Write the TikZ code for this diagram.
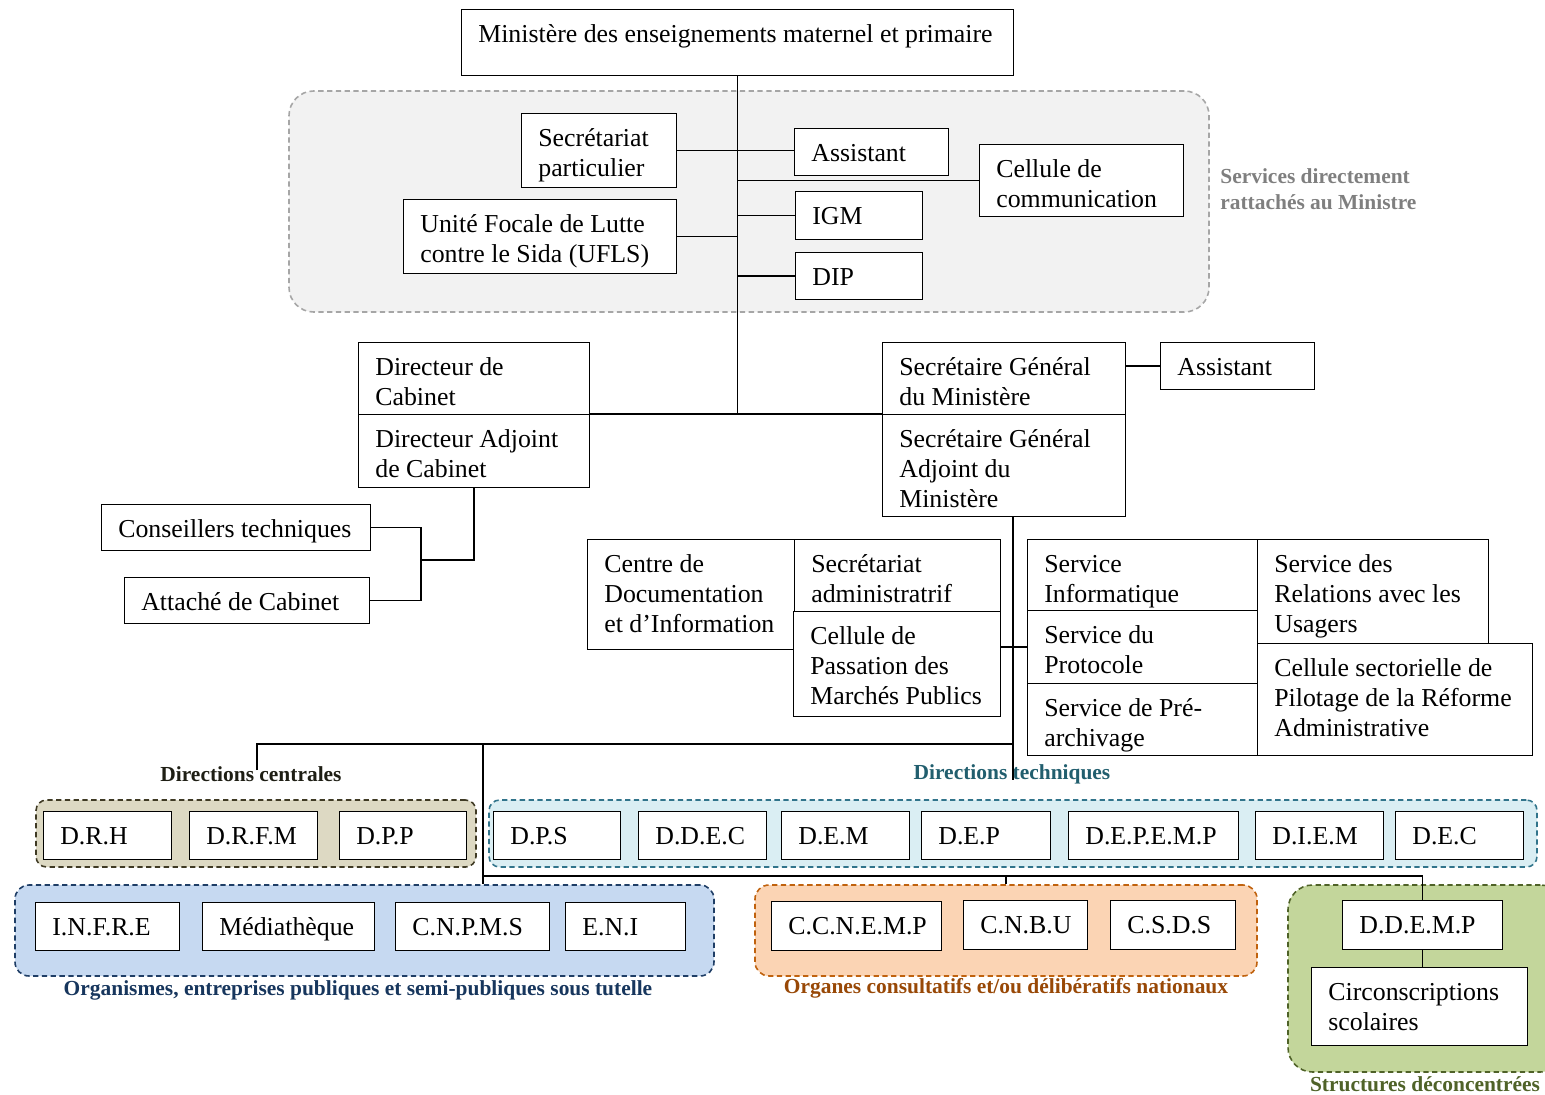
\documentclass[tikz,border=0pt]{standalone}
\usepackage{fontspec}
\setmainfont{Liberation Serif}
\usepackage{tikz}
\usetikzlibrary{positioning, fit, calc}
\definecolor{svfill}{HTML}{F2F2F2}
\definecolor{svline}{HTML}{A6A6A6}
\definecolor{svtext}{HTML}{7F7F7F}
\definecolor{dcfill}{HTML}{DDD9C3}
\definecolor{dcline}{HTML}{3F3A24}
\definecolor{dctext}{HTML}{1E1E14}
\definecolor{dtfill}{HTML}{DAEEF3}
\definecolor{dtline}{HTML}{31748B}
\definecolor{dttext}{HTML}{215E6E}
\definecolor{orgfill}{HTML}{C6D9F1}
\definecolor{orgline}{HTML}{1F3E66}
\definecolor{orgtext}{HTML}{17365D}
\definecolor{ocfill}{HTML}{FBD4B4}
\definecolor{ocline}{HTML}{C0620E}
\definecolor{octext}{HTML}{984806}
\definecolor{sdfill}{HTML}{C3D69B}
\definecolor{sdline}{HTML}{4F6228}
\definecolor{sdtext}{HTML}{4F6228}

% box given by its corners in pixels: [text opts]{name}{x1}{y1}{x2}{y2}{text}
\newcommand{\orgbox}[7][]{%
  \pgfmathsetlengthmacro{\boxw}{(#5-#3)*0.02cm}%
  \pgfmathsetlengthmacro{\boxh}{(#6-#4)*0.02cm}%
  \node[orgbox, minimum width=\boxw, minimum height=\boxh] (#2) at (#3,#4) {};
  \node[boxtext, #1] (#2t) at ([yshift=-0.16cm]#2.north west) {\rule{0pt}{0.5cm}#7};}

\begin{document}
\begin{tikzpicture}[
  x=0.02cm, y=-0.02cm,
  orgbox/.style={draw, fill=white, line width=0.6pt, anchor=north west, inner sep=0pt},
  boxtext/.style={anchor=north west, align=left, inner xsep=0.34cm, inner ysep=0pt, font=\fontsize{14.7}{17}\selectfont},
  grp/.style={dash pattern=on 3pt off 2pt, line width=0.9pt, inner sep=0pt, rounded corners=6pt},
  grplbl/.style={font=\fontsize{12.2}{14.7}\selectfont\bfseries},
  conn/.style={line width=0.8pt},
]
\useasboundingbox (0,0) rectangle (1545,1095);

% groups
\node[grp, draw=svline, fill=svfill, rounded corners=14pt, fit={(289,91) (1209,312)}] (gsv) {};
\node[grp, draw=dcline, fill=dcfill, fit={(36,800) (476,867)}] (gdc) {};
\node[grp, draw=dtline, fill=dtfill, fit={(489,800) (1537,867)}] (gdt) {};
\node[grp, draw=orgline, fill=orgfill, rounded corners=8pt, fit={(15,885) (714,976)}] (gorg) {};
\node[grp, draw=ocline, fill=ocfill, rounded corners=8pt, fit={(755,885) (1257,976)}] (goc) {};
\node[grp, draw=sdline, fill=sdfill, rounded corners=14pt, fit={(1288,885) (1565,1072)}] (gsd) {};

\node[grplbl, text=svtext, anchor=west, align=left, inner xsep=0pt] (svlbl) at (1220,189) {Services directement\\rattachés au Ministre};
\node[grplbl, text=dctext] (dclbl) at (251,774) {Directions centrales};
\node[grplbl, text=dttext] (dtlbl) at (1012,774) {Directions techniques};
\node[grplbl, text=orgtext] (orglbl) at (358,990) {Organismes, entreprises publiques et semi-publiques sous tutelle};
\node[grplbl, text=octext] (oclbl) at (1006,988) {Organes consultatifs et/ou délibératifs nationaux};
\node[grplbl, text=sdtext] (sdlbl) at (1425,1084) {Structures déconcentrées};

% top
\orgbox{min}{461}{9}{1013}{75}{Ministère des enseignements maternel et primaire}
\orgbox{secp}{521}{113}{676}{187}{Secrétariat\\particulier}
\orgbox{ufls}{403}{199}{676}{273}{Unité Focale de Lutte\\contre le Sida (UFLS)}
\orgbox{asst}{794}{128}{948}{175}{Assistant}
\orgbox{cellc}{979}{144}{1183}{216}{Cellule de\\communication}
\orgbox{igm}{795}{191}{922}{239}{IGM}
\orgbox{dip}{795}{252}{922}{299}{DIP}

% cabinet and secretariat general
\orgbox{dc}{358}{342}{589}{414}{Directeur de\\Cabinet}
\orgbox{dca}{358}{414}{589}{487}{Directeur Adjoint\\de Cabinet}
\orgbox{sg}{882}{342}{1125}{414}{Secrétaire Général\\du Ministère}
\orgbox{sga}{882}{414}{1125}{516}{Secrétaire Général\\Adjoint du\\Ministère}
\orgbox{asst2}{1160}{342}{1314}{389}{Assistant}
\orgbox{cons}{101}{504}{370}{550}{Conseillers techniques}
\orgbox{att}{124}{577}{369}{623}{Attaché de Cabinet}

% services
\orgbox{cdi}{587}{539}{794}{649}{Centre de\\Documentation\\et d’Information}
\orgbox{sadm}{794}{539}{1000}{611}{Secrétariat\\administratrif}
\orgbox{cpm}{793}{611}{1000}{716}{Cellule de\\Passation des\\Marchés Publics}
\orgbox{sinf}{1027}{539}{1257}{610}{Service\\Informatique}
\orgbox{sprot}{1027}{610}{1257}{683}{Service du\\Protocole}
\orgbox{sarch}{1027}{683}{1257}{755}{Service de Pré-\\archivage}
\orgbox{srel}{1257}{539}{1488}{643}{Service des\\Relations avec les\\Usagers}
\orgbox{csrf}{1257}{643}{1532}{755}{Cellule sectorielle de\\Pilotage de la Réforme\\Administrative}

% directions
\orgbox{drh}{43}{811}{171}{859}{D.R.H}
\orgbox{drfm}{189}{811}{317}{859}{D.R.F.M}
\orgbox{dpp}{339}{811}{466}{859}{D.P.P}
\orgbox{dps}{493}{811}{620}{859}{D.P.S}
\orgbox{ddec}{638}{811}{766}{859}{D.D.E.C}
\orgbox{dem}{781}{811}{909}{859}{D.E.M}
\orgbox{dep}{921}{811}{1050}{859}{D.E.P}
\orgbox{depemp}{1068}{811}{1238}{859}{D.E.P.E.M.P}
\orgbox{diem}{1255}{811}{1383}{859}{D.I.E.M}
\orgbox{dec}{1395}{811}{1523}{859}{D.E.C}

% organismes, organes, structures
\orgbox{infre}{35}{902}{179}{950}{I.N.F.R.E}
\orgbox{media}{202}{902}{374}{950}{Médiathèque}
\orgbox{cnpms}{395}{902}{549}{950}{C.N.P.M.S}
\orgbox{eni}{565}{902}{685}{950}{E.N.I}
\orgbox{ccnemp}{771}{901}{941}{950}{C.C.N.E.M.P}
\orgbox{cnbu}{963}{900}{1087}{949}{C.N.B.U}
\orgbox{csds}{1110}{900}{1235}{949}{C.S.D.S}
\orgbox{ddemp}{1342}{900}{1502}{949}{D.D.E.M.P}
\orgbox{circ}{1311}{967}{1527}{1045}{Circonscriptions\\scolaires}

% connectors
\coordinate (cabj) at (421,560);
\coordinate (sgj) at (1013,744);
\coordinate (sgend) at (1013,780);
\coordinate (dcend) at (257,770);
\coordinate (orgj) at (483,744);
\coordinate (subj) at (483,876);

\draw[conn] (min.south) -- (min.south |- dca.north east);
\draw[conn] (dca.north east) -- (sga.north west);
\draw[conn] (secp.east) -- (secp.east -| asst.west);
\foreach \b in {cellc, igm, dip}
  \draw[conn] (\b.west) -- (\b.west -| min.south);
\draw[conn] (ufls.east) -- (ufls.east -| min.south);
\draw[conn] (asst2.west -| sg.east) -- (asst2.west);

\draw[conn] (dca.south) |- (cabj);
\draw[conn] (cons.east) -| (cabj);
\draw[conn] (att.east) -| (cabj);

\draw[conn] (sgj |- sga.south) -- (sgend);
\draw[conn] (sprot.west -| cpm.east) -- (sprot.west);

\draw[conn] (dcend) |- (sgj);
\draw[conn] (orgj) -- (orgj |- gorg.north);
\draw[conn] (subj) -- (subj -| ddemp.north) -- (ddemp.north);
\draw[conn] (goc.north |- subj) -- (goc.north);
\draw[conn] (ddemp.south) -- (ddemp.south |- circ.north);

\end{tikzpicture}
\end{document}
